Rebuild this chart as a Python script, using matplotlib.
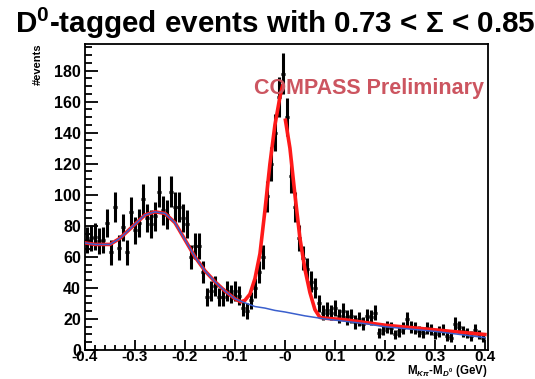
import numpy as np
import matplotlib
matplotlib.use("Agg")
import matplotlib.pyplot as plt
from matplotlib.ticker import MultipleLocator

plt.rcParams['font.family'] = ['Liberation Sans', 'DejaVu Sans']
plt.rcParams['mathtext.fontset'] = 'custom'
plt.rcParams['mathtext.rm'] = 'Liberation Sans:bold'
plt.rcParams['mathtext.it'] = 'Liberation Sans:bold:italic'
plt.rcParams['mathtext.bf'] = 'Liberation Sans:bold'

# DATA
# histogram: 100 bins of 0.008 GeV from -0.4 to 0.4
bin_width = 0.008
counts = [71, 72, 73, 70, 71, 82, 63, 92, 66, 79,
          63, 89, 77, 82, 97, 85, 81, 86, 102, 90,
          87, 102, 92, 92, 85, 81, 60, 67, 67, 50,
          34, 38, 41, 34, 34, 38, 36, 38, 35, 27,
          25, 32, 40, 50, 60, 99, 120, 140, 163, 178,
          150, 112, 92, 72, 59, 52, 44, 40, 30, 24,
          26, 24, 27, 22, 25, 21, 22, 18, 20, 17,
          22, 21, 24, 11, 13, 15, 14, 10, 12, 14,
          20, 15, 14, 12, 11, 14, 13, 10, 12, 13,
          9, 8, 17, 15, 12, 11, 9, 13, 10, 8]

# background fit (blue)
bkg_x = [-0.4, -0.38, -0.35, -0.33, -0.3, -0.28, -0.26, -0.24, -0.22, -0.2,
         -0.18, -0.16, -0.14, -0.12, -0.1, -0.085, -0.06, -0.04, -0.02, 0.0,
         0.04, 0.08, 0.12, 0.16, 0.2, 0.25, 0.3, 0.35, 0.4]
bkg_y = [69, 68, 68, 72, 81, 87, 89, 88, 82, 71,
         60, 51, 44, 38, 33, 31, 28, 27, 25.5, 24.5,
         22, 20, 18.5, 17, 15, 13.5, 12, 10, 8]

# total fit (red), drawn in two pieces
fit_left_x = [-0.4, -0.38, -0.35, -0.33, -0.3, -0.28, -0.26, -0.24, -0.22, -0.2,
              -0.18, -0.16, -0.14, -0.12, -0.1, -0.088, -0.08, -0.07, -0.06, -0.05,
              -0.04, -0.03, -0.02, -0.01, -0.005]
fit_left_y = [69, 68, 68, 72, 81, 87, 89, 88, 82, 71,
              60, 51, 44, 38, 33, 31, 32, 36, 46, 62,
              90, 120, 145, 163, 170]
fit_right_x = [0.001, 0.01, 0.02, 0.03, 0.04, 0.05, 0.06, 0.07, 0.08, 0.12,
               0.2, 0.3, 0.4]
fit_right_y = [148, 130, 100, 72, 52, 37, 26, 21, 20.5, 19.5,
               16, 13, 10]

xtick_vals = [-0.4, -0.3, -0.2, -0.1, 0.0, 0.1, 0.2, 0.3, 0.4]
xtick_labels = ["-0.4", "-0.3", "-0.2", "-0.1", "-0", "0.1", "0.2", "0.3", "0.4"]

# PLOTTING
counts = np.array(counts, dtype=float)
centers = -0.4 + bin_width / 2 + bin_width * np.arange(len(counts))

fig = plt.figure(figsize=(5.35, 3.79), dpi=100)
ax = fig.add_axes([0.1589, 0.0765, 0.753, 0.807])

ax.errorbar(centers, counts, yerr=np.sqrt(counts), xerr=bin_width / 2,
            fmt='.', ms=3, color='black', ecolor='black', elinewidth=2.2,
            capsize=0, zorder=2)
ax.plot(fit_left_x, fit_left_y, color='#ff1a1a', lw=2.6, zorder=3)
ax.plot(fit_right_x, fit_right_y, color='#ff1a1a', lw=2.6, zorder=3)
ax.plot(bkg_x, bkg_y, color='#3a5fcd', lw=1.1, zorder=4)

ax.set_xlim(-0.4, 0.406)
ax.set_ylim(0, 197)

ax.set_xticks(xtick_vals)
ax.set_xticklabels(xtick_labels)
ax.xaxis.set_minor_locator(MultipleLocator(0.02))
ax.yaxis.set_major_locator(MultipleLocator(20))
ax.yaxis.set_minor_locator(MultipleLocator(5))
ax.tick_params(axis='both', which='both', direction='in', top=False, right=False,
               width=1.3)
ax.tick_params(axis='y', which='major', length=9.5, pad=3, labelsize=11.5)
ax.tick_params(axis='y', which='minor', length=5)
ax.tick_params(axis='x', which='major', length=7, pad=0, labelsize=11)
ax.tick_params(axis='x', which='minor', length=3.6)
for lab in ax.get_xticklabels() + ax.get_yticklabels():
    lab.set_fontweight('bold')
for sp in ax.spines.values():
    sp.set_linewidth(1.3)

fig.text(0.028, 0.913, "D$^{0}$-tagged events with 0.73 < \u03a3 < 0.85",
         fontsize=21.3, fontweight='bold', ha='left', va='baseline')
ax.text(0.99, 0.855, "COMPASS Preliminary", transform=ax.transAxes,
        fontsize=15.5, fontweight='bold', color='#cc5560', ha='right', va='center')
fig.text(0.07, 0.885, "#events", rotation=90, fontsize=8, fontweight='bold',
         ha='center', va='top')
fig.text(0.912, 0.0, "M$_{K\\pi}$-M$_{D^0}$ (GeV)", fontsize=8.3,
         fontweight='bold', ha='right', va='bottom')

fig.savefig("out.png", dpi=100)
